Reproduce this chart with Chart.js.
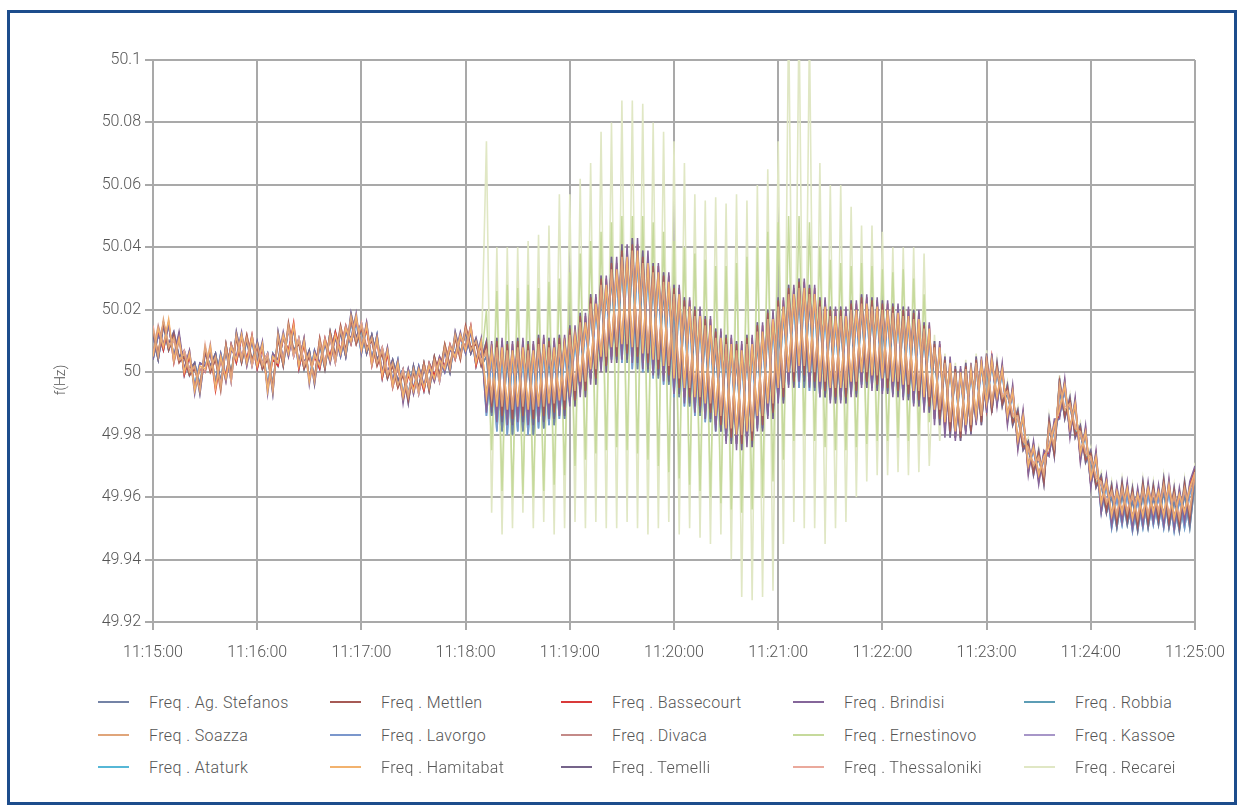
<!DOCTYPE html>
<html>
<head>
<meta charset="utf-8">
<title>Frequency 11:15 - 11:25</title>
<script src="https://cdn.jsdelivr.net/npm/chart.js@4.4.1/dist/chart.umd.min.js"></script>
<style>
  body { margin: 0; background: #fff; font-family: Roboto, "Liberation Sans", sans-serif; }
  #frame { position: absolute; left: 7px; top: 10px; width: 1230px; height: 795px; box-sizing: border-box; border: 3px solid #1d4d8c; }
  #freqChart { position: absolute; left: 0; top: 0; }
  #yTitle { position: absolute; left: 60px; top: 380px; transform: translate(-50%, -50%) rotate(-90deg); font-size: 14px; font-weight: 300; color: #555; }
  .lg { position: absolute; height: 20px; display: flex; align-items: center; font-size: 16px; font-weight: 300; letter-spacing: 0.4px; color: #555; white-space: nowrap; }
  .lg .sw { display: inline-block; width: 31px; height: 2px; margin-right: 20px; }
</style>
</head>
<body>
<canvas id="freqChart" width="1239" height="690"></canvas>
<div id="yTitle">f(Hz)</div>
<div id="legend"></div>
<div id="frame"></div>
<script>
// deviation from 50 Hz in mHz, one peak (hi) and one trough (lo) every 6 s, 11:15:00 -> 11:25:00
const soazHi = [14,17,11,6,2,8,5,8,12,11, 9,5,12,15,10,6,10,12,14,18, 15,11,7,3,0,1,2,4,8,12,
  14,10,7,8,7,8,7,9,8,9, 12,16,22,28,33,37,39,35,32,29, 25,21,18,15,11,9,7,9,13,17,
  21,25,27,25,21,18,18,20,22,21, 20,19,18,17,14,8,3,0,1,3, 4,1,-6,-14,-24,-27,-17,-4,-10,-19,
  -27,-35,-38,-37,-39,-37,-38,-36,-39,-37, -32];
const soazLo = [5,8,4,0,-6,1,-5,-2,4,3, 2,-6,3,6,2,-3,2,4,6,10, 7,3,-1,-4,-8,-6,-5,-2,1,5,
  7,3,-8,-11,-12,-11,-12,-11,-10,-9, -6,-3,1,5,8,9,8,6,4,2, -2,-5,-8,-10,-14,-18,-20,-19,-14,-10,
  -5,0,2,0,-3,-5,-5,-3,0,-1, -2,-3,-4,-6,-8,-12,-16,-19,-17,-14, -10,-8,-14,-22,-30,-33,-24,-12,-18,-26,
  -34,-42,-46,-45,-47,-46,-45,-46,-47,-45];

const mettHi = [13,16,12,5,1,7,4,9,11,12, 8,4,11,16,9,5,11,13,15,17, 14,10,6,2,-1,0,3,5,9,11,
  15,9,9,10,9,10,9,11,10,11, 14,18,24,30,35,39,41,37,34,31, 27,23,20,17,13,11,9,11,15,19,
  23,27,29,27,23,20,20,22,24,23, 22,21,20,19,15,9,4,1,2,4, 5,2,-5,-13,-23,-26,-16,-3,-9,-18,
  -26,-34,-37,-36,-38,-36,-37,-35,-38,-36, -31];
const mettLo = [6,7,3,-1,-5,0,-6,-1,3,4, 1,-5,2,7,1,-2,1,5,7,9, 8,2,-2,-5,-9,-5,-6,-1,2,4,
  8,2,-11,-14,-15,-14,-15,-14,-13,-12, -9,-6,-2,2,5,6,5,3,1,-1, -5,-8,-11,-13,-17,-21,-23,-22,-17,-13,
  -8,-3,-1,-3,-6,-8,-8,-6,-3,-4, -5,-6,-7,-9,-11,-15,-19,-21,-19,-16, -12,-10,-16,-24,-32,-35,-26,-14,-20,-28,
  -36,-44,-48,-47,-49,-48,-47,-48,-49,-47];

const brinHi = [12,15,13,7,3,6,6,7,13,10, 10,6,13,14,11,7,9,11,13,19, 16,12,8,4,1,2,1,5,7,13,
  13,11,10,11,10,11,10,12,11,12, 15,19,25,31,37,41,43,39,35,32, 28,24,21,18,14,12,10,12,16,20,
  24,28,30,28,24,21,21,23,25,24, 23,22,21,20,16,10,5,2,3,5, 6,3,-4,-12,-22,-25,-15,-2,-8,-17,
  -25,-33,-36,-35,-37,-35,-36,-34,-37,-35, -30];
const brinLo = [4,9,5,1,-7,2,-4,-3,5,2, 3,-7,4,5,3,-4,3,3,5,11, 6,4,0,-3,-10,-7,-4,-3,0,6,
  6,4,-13,-16,-17,-16,-17,-16,-15,-14, -11,-8,-4,0,3,4,3,1,-1,-3, -7,-10,-13,-15,-19,-23,-25,-24,-19,-15,
  -10,-5,-3,-5,-8,-10,-10,-8,-5,-6, -7,-8,-9,-11,-13,-17,-21,-22,-20,-17, -13,-11,-17,-25,-33,-36,-27,-15,-21,-29,
  -37,-45,-49,-48,-50,-49,-48,-49,-50,-48];

const thesHi = [15,16,10,7,1,9,4,9,11,12, 8,6,11,14,11,5,11,11,15,17, 16,10,8,2,1,0,3,3,9,11,
  15,9,6,7,6,7,6,8,7,8, 11,15,21,27,32,36,38,34,31,28, 24,20,17,14,10,8,6,8,12,16,
  20,24,26,24,20,17,17,19,21,20, 19,18,17,16,13,7,2,-1,0,2, 3,0,-7,-15,-25,-28,-18,-5,-11,-20,
  -28,-36,-39,-38,-40,-38,-39,-37,-40,-38, -33];
const thesLo = [6,9,3,1,-5,0,-4,-3,5,2, 3,-5,4,5,3,-2,3,3,7,9, 8,2,0,-5,-7,-7,-4,-3,2,4,
  8,4,-7,-10,-11,-10,-11,-10,-9,-8, -5,-2,2,6,9,10,9,7,5,3, -1,-4,-7,-9,-13,-17,-19,-18,-13,-9,
  -4,1,3,1,-2,-4,-4,-2,1,0, -1,-2,-3,-5,-7,-11,-15,-18,-16,-13, -9,-7,-13,-21,-29,-32,-23,-11,-17,-25,
  -33,-41,-45,-44,-46,-45,-44,-45,-46,-44];

const blueHi = [12,15,12,5,3,7,6,9,12,10, 9,6,11,14,10,7,9,13,13,16, 14,12,6,4,1,2,3,4,8,11,
  13,10,5,6,5,6,5,7,6,7, 10,14,20,26,31,35,37,33,30,27, 23,19,16,13,9,7,5,7,11,15,
  19,23,25,23,19,16,16,18,20,19, 18,17,16,15,12,7,2,-1,0,2, 3,0,-7,-15,-25,-28,-18,-6,-11,-20,
  -28,-36,-40,-39,-41,-39,-40,-38,-41,-39, -35];
const blueLo = [4,7,5,-1,-4,2,-3,-1,3,4, 1,-4,2,7,1,-2,1,5,5,9, 6,4,-2,-3,-7,-5,-6,-1,0,6,
  6,2,-14,-19,-20,-19,-20,-18,-17,-15, -10,-6,-2,2,4,3,1,0,-2,-4, -8,-11,-14,-16,-19,-22,-23,-22,-18,-14,
  -9,-4,-5,-6,-8,-9,-9,-7,-4,-5, -6,-7,-8,-10,-12,-15,-18,-21,-19,-16, -12,-10,-15,-23,-31,-34,-26,-14,-19,-27,
  -36,-45,-50,-49,-51,-50,-49,-50,-51,-50];

const ernHi = [13,16,11,6,2,8,5,8,12,11, 9,5,12,15,10,6,10,12,14,18, 15,11,7,3,0,1,3,5,9,12,
  14,10,20,26,28,27,28,27,29,30, 32,38,42,45,48,50,50,50,48,45, 42,40,38,36,34,34,35,37,40,45,
  48,50,50,48,40,36,35,34,35,34, 33,32,33,30,25,10,4,1,2,4, 5,2,-5,-13,-23,-26,-16,-3,-9,-18,
  -26,-34,-37,-36,-38,-36,-37,-35,-38,-36, -31];
const ernLo = [6,9,4,0,-5,1,-4,-1,4,3, 2,-5,3,6,2,-2,2,4,6,10, 7,3,-1,-4,-7,-5,-4,-1,2,6,
  7,3,-25,-38,-40,-39,-40,-38,-36,-33, -30,-28,-26,-25,-24,-25,-26,-28,-30,-32, -34,-36,-38,-40,-42,-44,-45,-44,-40,-35,
  -28,-22,-20,-22,-24,-25,-25,-24,-23,-22, -22,-21,-22,-20,-16,-14,-17,-20,-18,-15, -11,-9,-15,-23,-31,-34,-25,-13,-19,-27,
  -35,-43,-47,-46,-48,-47,-46,-47,-48,-46];

const recHi = [13,16,11,6,2,8,5,8,12,11, 9,5,12,15,10,6,10,12,14,18, 15,11,7,3,0,1,3,5,9,12,
  14,10,74,40,40,40,42,44,47,57, 57,62,67,77,80,87,87,86,80,77, 74,67,57,55,56,54,57,55,60,65,
  74,115,115,110,67,60,60,53,47,47, 45,40,40,40,38,12,6,3,4,6, 7,4,-3,-11,-21,-24,-14,-1,-7,-16,
  -24,-32,-35,-34,-36,-34,-35,-33,-36,-34, -29];
const recLo = [6,9,4,0,-5,1,-4,-1,4,3, 2,-5,3,6,2,-2,2,4,6,10, 7,3,-1,-4,-7,-5,-4,-1,2,6,
  7,3,-45,-52,-50,-45,-50,-48,-52,-50, -48,-50,-48,-50,-50,-48,-50,-52,-50,-48, -52,-50,-53,-55,-52,-60,-72,-73,-72,-70,
  -55,-48,-50,-50,-55,-50,-48,-40,-35,-33, -33,-32,-33,-32,-30,-22,-20,-22,-20,-17, -13,-11,-17,-25,-33,-36,-27,-15,-21,-29,
  -37,-45,-49,-48,-50,-49,-48,-49,-50,-48];

const seriesNames = ['Freq . Ag. Stefanos', 'Freq . Mettlen', 'Freq . Bassecourt', 'Freq . Brindisi', 'Freq . Robbia',
  'Freq . Soazza', 'Freq . Lavorgo', 'Freq . Divaca', 'Freq . Ernestinovo', 'Freq . Kassoe',
  'Freq . Ataturk', 'Freq . Hamitabat', 'Freq . Temelli', 'Freq . Thessaloniki', 'Freq . Recarei'];
const seriesColors = ['#7483a6', '#a65a55', '#d93a3a', '#85669a', '#5c9db5',
  '#e0a57a', '#7b97cc', '#c48a88', '#c6da9c', '#a796c8',
  '#56b7d6', '#f2b26e', '#75648a', '#eaa99c', '#e0e7c4'];
const seriesData = [[blueHi, blueLo], [mettHi, mettLo], [mettHi, mettLo], [brinHi, brinLo], [blueHi, blueLo],
  [soazHi, soazLo], [blueHi, blueLo], [thesHi, thesLo], [ernHi, ernLo], [brinHi, brinLo],
  [blueHi, blueLo], [soazHi, soazLo], [brinHi, brinLo], [thesHi, thesLo], [recHi, recLo]];
// 1 = trough sampled first in each 6 s block
const seriesPhase = [0, 0, 1, 1, 0, 0, 1, 1, 0, 0, 1, 1, 0, 0, 0];
// drawing order, lower is on top
const seriesOrder = [8, 3, 9, 4, 12, 1, 11, 6, 14, 10, 13, 2, 7, 5, 15];

const stepSec = 3;
const yTicks = { min: 49.92, max: 50.1, step: 0.02 };
const axisGray = '#a9a9a9';
const textGray = '#555';

function buildPoints(hi, lo, flip) {
  const pts = [];
  for (let k = 0; k < hi.length; k++) {
    const hasLo = k < lo.length;
    const first = (flip && hasLo) ? lo[k] : hi[k];
    const second = flip ? hi[k] : lo[k];
    pts.push({ x: 2 * k * stepSec, y: 50 + first / 1000 });
    if (hasLo) pts.push({ x: (2 * k + 1) * stepSec, y: 50 + second / 1000 });
  }
  return pts;
}

const datasets = seriesNames.map((name, i) => ({
  label: name,
  data: buildPoints(seriesData[i][0], seriesData[i][1], seriesPhase[i] === 1),
  borderColor: seriesColors[i],
  backgroundColor: seriesColors[i],
  borderWidth: i >= 14 ? 1.6 : 1.5,
  pointRadius: 0,
  tension: 0,
  fill: false,
  order: seriesOrder[i]
}));

const tickFont = { family: 'Roboto, "Liberation Sans", sans-serif', size: 16, weight: '300' };

let f_chart = new Chart('freqChart', {
  type: 'line',
  data: { datasets: datasets },
  options: {
    responsive: false,
    animation: false,
    devicePixelRatio: 1,
    layout: { padding: { left: 40, right: 44, top: 60, bottom: 0 } },
    plugins: { legend: { display: false }, tooltip: { enabled: false } },
    scales: {
      x: {
        type: 'linear', min: 0, max: 600,
        ticks: {
          stepSize: 60, maxRotation: 0, padding: 13, color: textGray, font: tickFont,
          callback: (v) => '11:' + String(15 + Math.round(v / 60)).padStart(2, '0') + ':00'
        },
        grid: { color: axisGray, lineWidth: 2, tickLength: 8 },
        border: { color: axisGray, width: 2 },
        afterFit: (s) => { s.height = 68; }
      },
      y: {
        min: yTicks.min, max: yTicks.max,
        ticks: {
          stepSize: yTicks.step, padding: 4, color: textGray, font: tickFont,
          callback: (v) => String(parseFloat(v.toFixed(2)))
        },
        grid: { color: axisGray, lineWidth: 2, tickLength: 8 },
        border: { color: axisGray, width: 2 },
        afterFit: (s) => { s.width = 113; }
      }
    }
  }
});

// legend, 3 rows x 5 columns like the original
const legendCols = [98, 330, 561, 793, 1024];
const legendRows = [702, 735, 767];
const legendBox = document.getElementById('legend');
seriesNames.forEach((name, i) => {
  const item = document.createElement('div');
  item.className = 'lg';
  item.style.left = legendCols[i % 5] + 'px';
  item.style.top = (legendRows[Math.floor(i / 5)] - 10) + 'px';
  item.innerHTML = '<span class="sw" style="background:' + seriesColors[i] + '"></span>' + name;
  legendBox.appendChild(item);
});
</script>
</body>
</html>
